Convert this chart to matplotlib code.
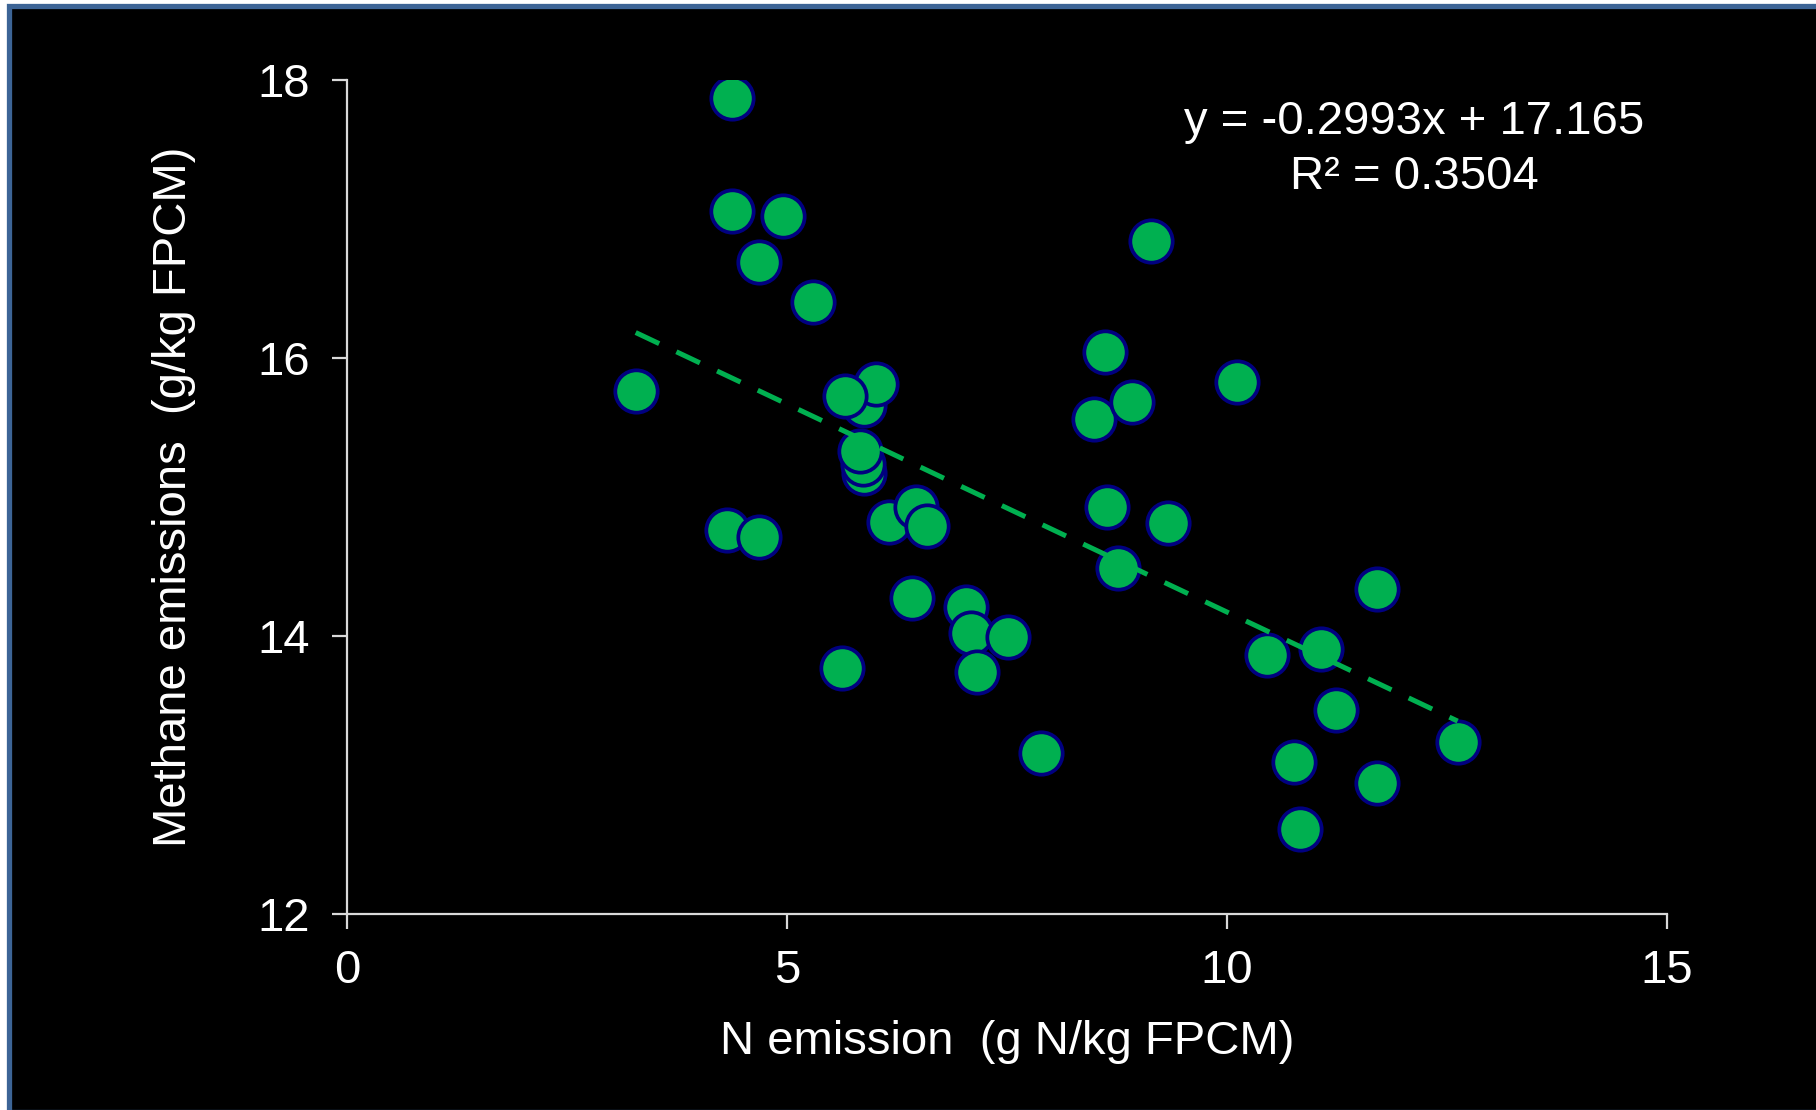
# Methane vs N emission scatter with linear trendline

import matplotlib.pyplot as plt
from matplotlib.patches import Rectangle

plt.rcParams['font.family'] = ['Liberation Sans', 'DejaVu Sans']

n_emission = [4.37, 4.37, 4.95, 4.68, 5.30, 3.28, 5.87, 6.01, 5.66,
              5.88, 5.86, 5.83, 4.32, 4.68, 6.16, 6.46, 6.59, 6.42,
              7.03, 7.09, 7.51, 7.16, 5.62, 7.88, 8.61, 8.49, 8.92,
              9.14, 8.63, 8.76, 9.33, 10.11, 10.45, 11.07, 11.24, 11.70,
              10.76, 11.70, 10.83, 12.62]
methane = [17.87, 17.06, 17.02, 16.69, 16.40, 15.76, 15.66, 15.81, 15.73,
           15.17, 15.24, 15.33, 14.76, 14.71, 14.82, 14.93, 14.79, 14.27,
           14.21, 14.02, 13.99, 13.74, 13.77, 13.16, 16.04, 15.56, 15.68,
           16.84, 14.93, 14.49, 14.81, 15.83, 13.86, 13.91, 13.47, 14.34,
           13.09, 12.94, 12.61, 13.24]

slope = -0.2993
intercept = 17.165
r_squared = 0.3504

x_ticks = [0, 5, 10, 15]
y_ticks = [12, 14, 16, 18]

green = '#00B050'
navy = '#000080'
axis_col = '#D9D9D9'
fs = 34

fig = plt.figure(figsize=(18.16, 11.1), dpi=100, facecolor='white')

# black panel with blue frame, kept behind the axes
frame = Rectangle((0.0052, -0.002), 1.0, 0.9966, transform=fig.transFigure,
                  facecolor='black', edgecolor='#3C6496', linewidth=3.8, zorder=-10)
fig.add_artist(frame)

ax = fig.add_axes([0.1911, 0.1766, 0.7269, 0.7513])
ax.set_facecolor('black')

ax.scatter(n_emission, methane, s=930, c=green, edgecolors=navy, linewidths=2.7, zorder=3)

# trendline across the data range
x0, x1 = min(n_emission), max(n_emission)
ax.plot([x0, x1], [slope * x0 + intercept, slope * x1 + intercept],
        color=green, linewidth=3.6, dashes=(5.2, 3.8), zorder=4)

ax.text(12.13, 17.70, 'y = %.4fx + %.3f' % (slope, intercept), color='white',
        fontsize=fs, ha='center', va='center')
ax.text(12.13, 17.30, 'R² = %.4f' % r_squared, color='white',
        fontsize=fs, ha='center', va='center')

ax.set_xlim(0, 15)
ax.set_ylim(12, 18)
ax.set_xticks(x_ticks)
ax.set_yticks(y_ticks)

for s in ['top', 'right']:
    ax.spines[s].set_visible(False)
for s in ['left', 'bottom']:
    ax.spines[s].set_color(axis_col)
    ax.spines[s].set_linewidth(1.6)

ax.tick_params(axis='both', colors=axis_col, labelcolor='white', labelsize=fs,
               length=11, width=1.6, direction='out')
ax.tick_params(axis='x', pad=14)
ax.tick_params(axis='y', pad=16)

ax.set_xlabel('N emission  (g N/kg FPCM)', color='white', fontsize=fs, labelpad=20)
ax.set_ylabel('Methane emissions  (g/kg FPCM)', color='white', fontsize=fs, labelpad=44)

fig.savefig('out.png', dpi=100, facecolor='white')
